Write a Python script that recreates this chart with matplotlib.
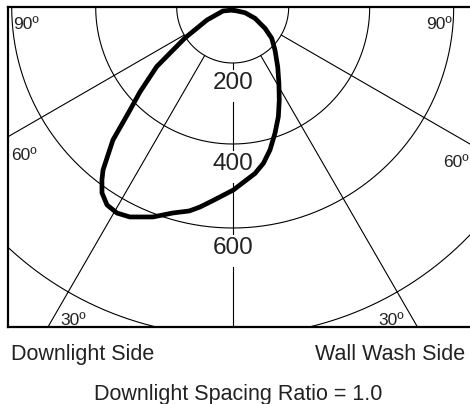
import numpy as np
import matplotlib
matplotlib.use("Agg")
import matplotlib.pyplot as plt

# rings of the candela grid: label and drawn radius (chart units)
ring_labels = ["200", "400", "600"]
ring_radii = [56, 137, 221, 329]
spoke_angles = [-60, -30, 30, 60]

# candela curve, angle from nadir (negative = downlight side)
curve_angles = [0, -67.6, -63.2, -57.0, -51.9, -47.5, -44.9, -42.0, -38.5, -37.1,
                -35.1, -32.4, -29.3, -26.1, -20.8, -16.2, -12.0, -9.3, -5.7, 0.2,
                7.6, 11.1, 14.6, 18.5, 22.6, 26.6, 31.2, 37.0, 44.5, 51.3,
                56.6, 63.1, 65.1, 0]
curve_radii = [3, 10.5, 28.8, 57.0, 96.6, 125.8, 145.5, 179.0, 208.3, 216.8,
               227.3, 234.5, 236.3, 233.8, 224.6, 214.5, 208.5, 202.7, 194.3, 183.0,
               168.0, 159.3, 147.8, 133.2, 118.8, 104.0, 89.2, 74.8, 60.3, 50.0,
               38.7, 25.0, 13.6, 3]


def polar_xy(ang, r):
    a = np.radians(np.asarray(ang, dtype=float))
    r = np.asarray(r, dtype=float)
    return r * np.sin(a), -r * np.cos(a)


W, H = 470, 404
cx, cy = 232.7, 7
fig = plt.figure(figsize=(W / 100, H / 100), dpi=100)
ax = fig.add_axes([8 / W, (H - 327) / H, (480 - 8) / W, 320 / H])
ax.set_xlim(8 - cx, 480 - cx)
ax.set_ylim(-320, 0)
for s in ["left", "top", "bottom"]:
    ax.spines[s].set_linewidth(1.6)
ax.spines["right"].set_visible(False)
ax.set_xticks([])
ax.set_yticks([])

# rings
th = np.linspace(-90, 90, 361)
for r in ring_radii:
    x, y = polar_xy(th, np.full_like(th, r))
    ax.plot(x, y, color="black", lw=0.8)

# spokes starting at the first ring
for a in spoke_angles:
    x, y = polar_xy([a, a], [ring_radii[0], 700])
    ax.plot(x, y, color="black", lw=0.8)

# vertical spoke, broken where the ring labels sit
gap_top, gap_bot = 6, 39
pieces = [ring_radii[0]]
for r in ring_radii[:3]:
    pieces += [r + gap_top, r + gap_bot]
pieces.append(400)
for i in range(0, len(pieces), 2):
    x, y = polar_xy([0, 0], [pieces[i], pieces[i + 1]])
    ax.plot(x, y, color="black", lw=0.8)

reg = ["Liberation Sans", "DejaVu Sans"]
for lab, r in zip(ring_labels, ring_radii):
    ax.text(0, -(r + 26), lab, ha="center", va="baseline", fontsize=17.5,
            family=reg, color="#222222")

# angle labels
def lbl(px, py, s, ha):
    ax.text(px - cx, cy - py, s, ha=ha, va="baseline", fontsize=12.5,
            family=reg, color="#222222")

lbl(13, 29, "90º", "left")
lbl(452, 29, "90º", "right")
lbl(11, 160, "60º", "left")
lbl(469, 167, "60º", "right")
lbl(60, 325, "30º", "left")
lbl(378, 325, "30º", "left")

# candela curve
x, y = polar_xy(curve_angles, curve_radii)
ax.plot(x, y, color="black", lw=3.4, solid_joinstyle="round", zorder=5)

fig.text(11 / W, (H - 360) / H, "Downlight Side", ha="left", va="baseline",
         fontsize=15.5, family=reg, color="#222222")
fig.text(465 / W, (H - 360) / H, "Wall Wash Side", ha="right", va="baseline",
         fontsize=15.5, family=reg, color="#222222")
fig.text(238 / W, (H - 400) / H, "Downlight Spacing Ratio = 1.0", ha="center",
         va="baseline", fontsize=15.5, family=reg, color="#222222")

fig.savefig("out.png", dpi=100)
